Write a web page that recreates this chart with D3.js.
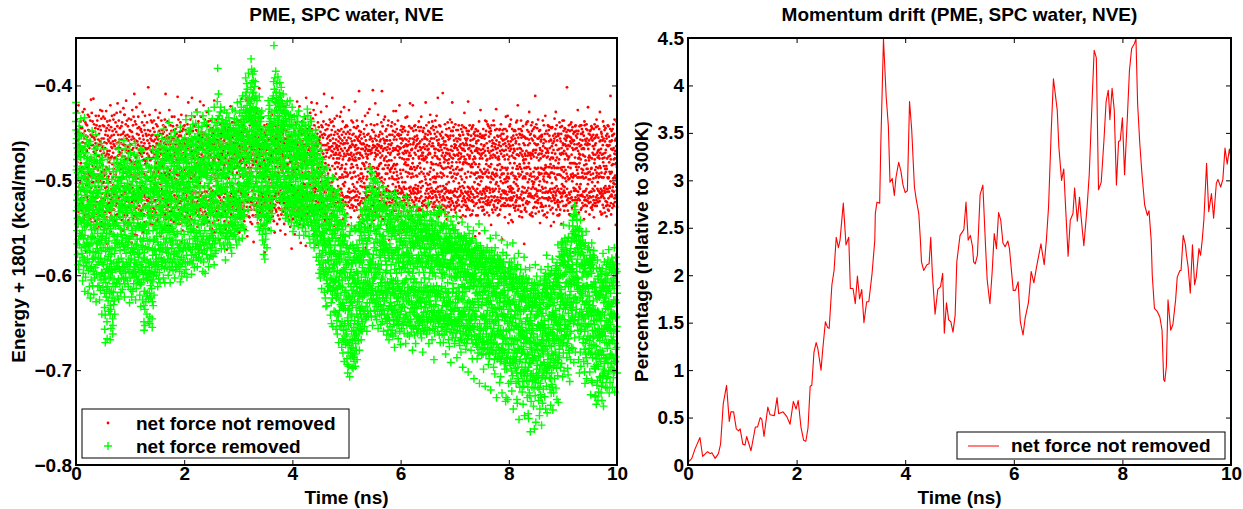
<!DOCTYPE html>
<html>
<head>
<meta charset="utf-8">
<script src="https://cdn.jsdelivr.net/npm/d3@7"></script>
<style>
  body { margin: 0; background: #fff; }
  svg text { font-family: "Liberation Sans", Arial, Helvetica, sans-serif; font-weight: bold; fill: #000; }
  .axis text { font-size: 19px; }
</style>
</head>
<body>
<svg id="fig" width="1243" height="509"></svg>
<script>
// whitespace-separated numbers -> array
const parseSeries = s => s.trim().split(/\s+/).map(Number);

// Energy + 1801 (kcal/mol) over a 10 ns NVE run, sampled at a fixed interval
// (one line per 0.1 ns). Stored in thousandths of a kcal/mol with the minus
// sign dropped: 487 means -0.487.
const energyNotRemoved = parseSeries(`
471 503 446 492 527 436 487 539 453 498 481 427 512 466 549 494 458 515 449 533 474 421 507 462 525 452 539 456 488 520 443 527 469 451 503 556 464 491 438 519 482 445 531 467 498
489 452 527 468 511 543 445 486 524 460 496 428 533 471 507 451 492 558 465 519 437 488 541 456 499 425 512 474 537 448 494 461 529 439 516 482 531 453 575 497 441 505 468 529 486
505 469 442 518 477 454 536 493 431 521 464 499 526 447 483 522 459 547 491 433 512 466 531 448 495 458 541 476 512 437 479 513 452 539 491 415 508 463 544 476 497 429 518 454 502
453 497 531 438 485 517 463 539 449 502 414 526 470 455 513 538 441 488 522 466 561 494 457 519 472 543 445 507 461 528 432 486 517 453 535 480 442 523 468 501 474 551 437 496 512
518 464 489 513 446 541 457 495 532 432 507 474 451 549 462 498 525 443 486 537 459 501 426 469 522 478 447 544 496 463 530 435 491 519 456 548 473 427 514 465 503 484 531 442 497
467 519 433 491 538 456 502 471 527 443 495 546 460 489 521 435 533 466 508 452 551 474 517 448 493 529 427 486 514 461 539 445 507 472 526 438 567 469 511 453 488 532 457 499 476
496 442 524 473 459 548 481 447 516 469 534 437 502 478 455 529 421 493 554 461 520 476 444 537 465 509 453 541 475 432 518 466 531 483 448 497 524 459 546 471 505 436 512 488 462
452 531 477 515 431 508 464 522 446 543 476 458 511 537 439 494 527 467 515 563 449 482 506 429 524 461 513 478 536 443 497 419 519 466 548 474 452 525 483 460 509 437 498 532 470
518 473 457 539 482 445 527 466 511 428 488 533 452 497 551 461 516 471 443 528 484 457 542 475 439 521 468 506 534 451 487 553 462 515 424 498 526 449 479 537 463 508 431 492 546
475 431 512 463 528 479 453 545 487 441 522 468 416 514 477 532 456 493 519 437 537 471 508 452 550 465 518 443 491 529 458 496 542 469 435 523 477 511 454 562 489 447 527 463 504
463 526 479 448 513 547 462 494 436 531 473 519 457 566 481 449 523 468 426 508 534 454 487 515 442 541 466 495 528 433 512 471 456 537 483 409 521 474 557 459 497 438 516 481 529
537 458 495 522 441 476 514 423 529 466 502 558 451 517 474 459 541 487 445 524 463 498 512 433 481 546 452 519 468 531 444 493 527 471 456 515 419 508 549 464 487 532 447 503 472
446 509 471 534 460 518 449 492 537 475 439 521 468 506 428 531 479 453 555 464 512 527 457 493 471 536 442 516 478 461 544 447 509 525 432 483 518 466 571 480 495 451 529 467 508
482 545 453 477 521 467 439 513 472 527 458 499 534 447 491 522 402 466 518 474 452 539 485 461 563 476 519 431 497 532 464 448 523 479 546 456 501 468 529 437 511 487 453 538 470
458 477 524 439 496 533 471 452 518 547 464 493 445 529 476 513 459 538 437 491 522 468 504 449 531 473 552 457 498 465 521 426 487 534 453 505 482 441 527 470 512 461 489 543 455
521 462 443 508 474 516 541 457 489 434 526 491 467 512 453 544 475 448 497 531 462 517 429 486 523 468 495 537 451 504 472 559 459 493 528 437 478 582 466 509 447 531 485 456 514
473 534 486 451 527 442 478 519 466 537 449 493 551 461 514 472 528 455 492 436 521 468 536 444 498 409 515 477 541 456 495 462 524 479 447 548 469 502 453 531 487 438 512 474 526
439 493 521 476 462 539 455 497 528 473 517 426 494 468 533 451 489 515 462 548 496 442 525 477 459 521 474 542 448 513 466 497 532 433 519 478 456 554 481 465 507 443 529 492 457
512 456 468 544 481 447 522 474 433 516 468 529 453 498 471 557 462 519 446 493 537 458 478 520 466 499 541 451 485 527 442 494 463 538 479 412 517 469 546 455 503 488 436 524 472
466 518 453 495 531 478 464 546 449 492 524 461 505 439 487 522 496 453 541 468 502 431 529 474 565 463 497 536 448 490 521 472 457 553 499 465 531 446 514 477 443 508 489 527 461
529 471 497 442 520 463 539 481 456 513 475 447 533 494 458 519 432 487 526 462 508 545 451 516 479 534 467 441 522 495 473 548 459 502 418 491 525 464 507 543 482 451 519 468 497
451 507 538 467 489 525 436 513 472 547 459 498 522 465 541 448 492 469 516 413 524 477 459 511 536 474 521 448 495 553 462 514 477 456 529 496 468 542 443 518 487 433 506 471 529
494 442 523 478 456 512 469 534 447 491 518 463 426 507 531 474 457 525 482 448 549 466 513 471 522 459 537 485 438 518 472 531 453 497 574 476 521 464 539 452 503 488 417 526 467
477 529 464 516 433 485 532 458 521 473 449 537 491 466 513 455 528 476 562 461 495 519 452 534 468 507 421 524 478 462 546 483 451 517 475 529 436 512 468 533 496 442 521 486 457
518 463 491 452 536 497 471 525 428 512 466 493 539 454 488 522 443 506 465 531 476 438 517 482 527 456 544 473 509 447 521 469 534 484 458 516 551 462 489 525 473 437 508 496 461
445 512 476 529 468 453 551 487 462 519 534 445 483 511 457 545 479 524 450 493 517 462 538 471 506 416 522 477 555 459 513 481 466 532 448 498 523 474 457 537 492 436 514 468 529
489 467 533 446 501 522 476 439 527 472 458 495 542 461 516 433 534 478 509 452 528 475 464 563 480 518 451 537 483 466 524 441 507 472 539 456 515 489 427 521 463 508 536 474 449
472 528 451 497 513 464 538 482 469 447 523 476 459 531 484 518 466 441 525 487 470 543 457 514 445 532 477 498 456 551 465 519 482 448 527 474 536 461 512 573 449 496 528 463 507
526 453 492 471 447 531 489 456 517 480 545 462 498 444 473 529 491 456 478 539 448 517 483 466 524 477 422 522 485 459 536 471 514 448 547 481 463 528 476 439 506 492 518 455 531
460 494 517 538 462 478 445 522 488 453 472 527 439 518 481 465 547 450 514 473 526 461 532 487 470 519 457 553 478 524 449 485 466 531 492 474 437 521 456 539 482 503 461 527 475
511 438 475 524 486 451 533 470 555 464 519 481 453 540 467 496 524 438 537 479 456 513 471 526 449 482 529 462 547 476 515 414 488 465 523 452 538 481 517 468 497 442 531 459 506
478 527 462 449 543 487 468 516 459 532 477 446 521 484 469 513 458 552 465 521 484 415 476 537 493 454 528 481 467 559 452 506 523 473 515 461 428 532 487 476 502 449 538 471 519
453 491 539 478 465 519 442 494 528 471 499 544 462 477 436 523 487 474 531 448 492 465 518 456 546 479 523 468 511 453 537 484 432 526 472 519 461 565 478 496 439 507 481 527 464
531 468 454 515 480 437 526 461 473 537 450 497 479 526 503 457 472 519 429 488 533 476 452 524 481 466 545 492 459 483 528 447 521 474 497 539 455 516 471 403 512 485 463 534 491
467 517 486 462 529 474 542 448 513 482 464 521 446 495 548 467 526 481 457 515 474 531 487 434 518 461 493 536 472 524 451 498 547 465 513 479 527 442 494 576 458 506 483 521 449
485 452 523 538 471 513 459 491 447 524 489 468 535 452 477 519 441 496 528 464 511 456 543 478 462 529 484 551 457 516 473 522 428 499 466 532 481 448 525 473 507 491 462 539 476
520 475 441 503 456 534 477 523 469 498 431 532 473 517 461 494 538 453 480 525 447 476 520 469 508 543 454 512 477 529 463 496 555 471 517 419 492 526 458 514 486 443 531 467 502
456 533 479 514 522 451 495 468 546 456 523 479 461 513 446 537 472 499 455 492 529 467 514 442 530 477 519 464 541 486 452 524 478 511 467 553 459 518 483 531 445 507 472 536 489
483 460 516 472 449 508 531 445 492 521 475 451 514 469 533 478 458 524 486 447 474 546 461 519 477 422 529 483 466 518 557 456 512 475 524 469 496 535 448 491 513 466 527 482 455
474 522 457 529 485 466 518 483 457 538 462 495 476 527 459 491 517 469 542 476 453 509 532 481 453 521 477 549 465 512 528 443 496 473 537 460 505 481 572 469 498 433 516 487 462
517 459 494 541 468 516 432 489 525 461 507 533 452 492 518 466 529 448 496 557 471 458 515 483 525 476 538 462 513 439 527 481 466 544 488 452 521 477 532 417 498 511 463 487 529
482 533 469 456 523 485 538 467 511 473 529 448 517 494 422 546 478 524 457 509 531 474 447 520 566 463 497 528 472 516 451 539 483 466 525 492 438 487 541 459 503 479 518 446 534
465 508 531 479 451 527 476 519 548 462 504 521 469 536 493 435 507 472 530 481 517 569 464 498 413 522 476 541 457 513 482 528 446 497 471 535 463 518 484 547 452 506 529 468 491
506 464 497 452 529 473 444 521 467 505 458 532 476 429 514 470 457 544 481 448 466 513 475 527 418 492 461 519 446 487 536 468 509 453 521 435 498 512 463 557 479 426 517 484 503
489 531 442 515 466 508 477 454 512 473 526 463 431 509 461 522 478 447 505 536 459 497 568 465 419 516 472 451 528 483 464 511 439 487 523 456 498 469 531 444 507 482 549 458 494
473 496 527 461 454 520 461 515 449 538 467 502 514 428 486 531 442 507 469 524 493 452 481 529 444 518 476 463 547 455 509 472 524 438 491 476 535 451 409 512 488 526 463 497 541
501 452 486 543 482 447 513 468 534 475 441 519 463 537 422 505 471 521 456 498 527 446 510 468 552 461 493 517 454 484 529 442 508 465 519 476 453 541 467 503 436 525 489 458 516
458 517 465 509 439 528 474 452 506 521 469 535 447 502 516 464 413 485 438 517 470 512 456 495 532 477 461 524 443 509 473 548 452 496 467 519 435 488 514 461 527 482 449 538 473
524 471 493 457 518 465 539 481 463 432 511 477 528 466 499 451 486 532 468 447 506 523 473 459 561 482 454 515 477 464 529 448 497 471 516 433 488 521 456 509 474 542 461 497 428
467 509 446 524 487 513 452 484 531 494 458 516 469 438 521 478 504 462 497 541 449 475 527 461 423 506 472 518 455 491 537 466 502 444 488 523 461 496 474 568 451 517 483 442 526
492 458 518 469 535 443 496 472 517 461 527 449 494 512 468 547 455 479 523 473 426 509 466 518 477 451 513 478 529 464 492 447 521 473 456 539 487 465 512 471 498 437 526 483 459
519 475 462 497 452 529 478 504 439 486 511 463 527 451 492 473 518 444 479 507 532 458 491 549 465 512 417 476 521 468 496 454 517 479 463 528 445 509 472 516 484 437 531 467 502
456 521 487 443 512 471 458 525 495 466 539 477 454 518 406 499 448 526 477 459 514 471 498 452 524 473 506 461 493 537 449 488 522 467 501 456 545 474 493 462 519 438 507 482 531
498 467 524 476 461 496 543 451 483 519 462 503 446 485 528 454 507 469 513 432 488 521 465 509 571 472 458 516 481 467 531 442 499 475 518 463 496 452 528 477 507 429 491 536 469
473 516 451 512 538 468 486 507 464 531 425 512 483 457 506 531 469 548 454 493 472 516 487 441 527 495 468 519 456 488 513 471 534 447 492 466 521 459 508 405 486 527 463 499 542
521 449 498 465 487 524 442 529 478 456 507 471 533 464 419 517 491 453 475 529 468 496 552 473 458 514 487 466 521 493 441 509 462 527 473 516 488 431 495 469 531 454 508 485 463
464 493 537 452 516 483 498 459 522 471 514 449 476 538 457 482 513 466 527 439 501 464 532 497 406 519 474 451 506 528 443 488 515 469 541 456 503 522 467 488 436 512 479 527 458
477 524 461 499 433 531 466 512 484 448 526 493 458 511 475 524 446 509 468 517 454 547 480 458 493 536 465 487 519 442 506 471 528 437 511 484 462 516 479 563 452 498 523 467 489
512 458 473 527 491 452 519 471 536 463 488 517 443 479 524 487 461 513 439 496 533 452 498 521 469 504 448 485 531 466 512 427 492 519 457 483 526 468 499 454 515 476 441 532 488
449 511 522 466 507 484 427 532 468 499 457 524 491 446 483 518 495 452 542 464 511 473 437 502 526 469 514 451 498 557 453 506 472 519 465 421 508 476 523 467 538 456 489 513 447
493 466 452 514 533 461 509 443 497 522 456 511 477 529 449 502 527 471 458 513 446 489 518 465 553 472 507 444 516 478 464 521 483 509 456 538 469 502 448 517 481 434 524 491 462
526 471 509 457 484 519 478 464 515 433 532 469 496 452 517 463 484 534 492 449 478 521 459 541 474 508 443 516 471 493 527 456 511 419 488 518 462 507 474 529 486 445 513 497 468
468 514 445 488 521 467 538 493 456 482 509 421 528 477 462 511 448 496 523 460 514 457 486 508 443 526 471 454 513 489 442 518 548 466 505 473 521 447 509 464 495 532 458 487 519
514 453 496 531 462 509 456 485 511 537 469 506 444 513 532 475 438 477 522 461 529 493 448 482 519 465 502 546 459 487 512 468 531 444 508 474 433 517 491 552 466 501 478 524 457
471 527 474 448 506 538 471 449 522 465 493 533 477 445 479 526 488 462 456 537 454 496 521 467 478 514 451 499 418 475 518 456 503 527 442 511 476 464 529 481 509 457 493 536 468
452 505 519 473 448 514 526 467 494 439 518 462 509 471 525 449 517 459 491 504 472 431 499 533 451 487 512 456 523 481 445 508 464 519 456 547 483 438 514 476 528 461 497 511 443
518 464 483 525 489 447 502 531 456 512 467 496 523 474 451 512 471 528 437 498 516 467 502 444 527 483 509 454 518 432 496 475 521 458 493 536 449 512 477 413 507 468 529 484 461
463 512 538 457 496 523 469 442 515 478 534 451 482 518 443 506 465 529 492 453 485 528 463 512 549 468 497 474 521 449 511 487 456 526 493 408 471 517 455 506 531 462 488 519 476
495 459 481 509 527 466 514 478 441 521 474 508 459 536 487 452 509 463 529 471 512 446 504 479 541 467 518 453 496 472 527 439 511 486 454 519 482 468 534 457 502 478 523 445 513
472 528 456 513 474 492 436 520 487 453 511 526 468 492 519 448 531 476 464 497 439 485 522 481 418 513 469 496 448 524 477 512 453 489 538 444 501 473 516 458 527 466 493 531 462
511 465 509 474 517 441 529 463 498 534 456 488 523 447 481 524 466 494 512 473 527 459 486 518 468 493 447 521 474 509 456 545 478 442 503 471 526 452 517 489 464 532 481 507 453
457 516 477 462 539 496 472 511 446 489 466 513 528 475 499 442 488 522 449 506 468 514 461 537 483 452 519 467 481 526 444 508 475 517 463 429 502 478 469 521 493 456 512 481 538
523 478 445 527 461 513 458 497 531 482 448 527 463 514 456 519 473 451 507 529 491 417 512 467 452 516 483 448 521 475 508 466 531 477 442 509 474 518 463 496 537 458 485 512 469
486 453 514 492 446 522 483 536 464 471 521 444 507 486 532 457 515 442 478 523 464 509 493 451 518 481 456 527 475 502 449 494 518 469 559 477 453 511 483 446 525 468 492 537 461
459 498 524 466 513 469 448 509 517 453 492 537 471 448 504 486 458 529 514 467 496 521 438 483 556 472 505 454 497 477 523 451 489 512 426 496 468 519 474 501 462 528 455 491 514
515 472 453 519 477 532 497 455 493 528 467 511 446 523 471 509 531 464 453 512 488 463 536 519 456 493 514 469 437 509 474 525 452 491 517 448 507 483 438 522 479 461 511 496 534
478 526 489 441 508 466 524 521 469 497 443 485 518 492 454 537 449 508 471 526 459 513 477 445 510 486 523 451 502 474 496 448 547 483 469 517 442 498 521 464 493 531 458 476 509
492 461 512 534 468 499 473 437 526 461 518 494 442 511 528 455 488 517 465 474 522 447 496 531 462 509 476 504 467 425 493 521 458 502 446 489 529 471 495 453 518 484 466 537 478
524 477 454 506 521 475 463 512 478 536 460 447 509 483 446 522 497 469 531 453 489 518 464 501 441 515 472 527 456 494 519 451 486 562 493 468 511 447 487 526 458 503 475 519 462
451 513 493 469 446 527 511 474 457 499 524 478 539 461 514 487 446 502 519 468 433 512 527 464 498 456 489 521 448 496 473 515 454 501 487 432 493 526 459 507 478 545 466 497 519
498 462 527 512 475 443 536 469 509 482 441 521 464 506 527 459 518 436 493 511 467 542 455 508 521 474 513 446 492 519 457 487 544 463 509 471 526 453 495 476 517 448 502 529 467
513 482 469 447 529 498 456 477 532 448 496 523 461 527 459 504 439 521 488 452 516 473 499 437 485 518 467 506 473 421 511 488 531 455 493 527 446 509 474 519 462 496 538 451 483
466 527 486 518 452 471 519 446 494 533 467 437 515 488 455 533 473 448 512 539 452 491 521 469 507 475 498 443 526 479 454 513 461 496 478 519 482 567 454 487 508 463 531 472 496
529 455 498 474 513 456 478 524 441 487 533 469 493 439 522 486 511 456 447 493 525 474 438 502 463 517 471 508 486 449 514 482 457 523 428 499 473 517 461 495 536 452 488 514 471
474 516 451 493 537 477 442 509 518 456 496 534 448 501 472 439 517 538 473 458 507 469 504 529 446 491 468 519 475 502 453 496 528 461 444 509 487 516 454 411 523 471 499 535 462
509 468 523 441 488 514 529 463 476 511 445 498 517 456 497 521 462 487 436 524 473 511 456 492 533 479 505 448 494 472 519 454 501 466 545 447 493 468 511 477 528 459 487 524 453
457 493 472 526 454 452 507 518 469 532 488 513 437 509 475 464 528 499 461 496 537 442 489 519 457 501 474 493 536 451 487 513 466 432 508 484 527 459 492 519 471 448 512 486 539
519 476 502 467 493 534 451 469 513 475 442 496 521 471 443 512 486 447 518 459 494 527 453 486 511 466 497 478 519 444 509 483 531 457 492 548 458 513 476 445 522 487 464 503 471
492 444 529 509 461 476 516 477 535 453 518 468 485 512 544 459 493 521 456 487 435 519 508 451 524 472 497 446 513 479 428 516 463 499 454 531 487 506 442 511 476 523 458 494 537
468 521 451 487 526 509 453 528 482 494 537 451 512 478 467 536 439 494 523 513 472 456 531 444 487 514 459 495 473 518 451 509 546 466 489 517 443 504 471 522 486 437 513 497 461
514 463 506 472 527 448 491 437 511 486 469 532 456 507 445 513 478 462 498 446 527 489 453 517 472 458 501 464 526 449 493 516 455 402 509 474 521 467 496 453 532 478 447 519 486
463 499 524 476 442 513 475 536 454 498 515 464 448 523 482 459 536 441 487 519 455 494 512 461 439 496 473 518 447 482 529 457 501 466 444 521 493 576 459 497 468 527 451 508 482
527 458 449 511 495 462 538 482 449 521 476 443 509 467 518 442 495 527 453 486 511 448 524 483 466 504 455 489 521 462 497 451 516 426 493 469 512 477 448 519 486 534 461 497 472
476 507 482 443 521 464 509 473 516 457 442 504 478 531 451 497 463 516 442 488 529 467 446 515 451 492 524 458 496 473 517 449 489 512 466 527 474 498 453 541 467 512 484 438 521
442 493 518 475 457 526 462 511 479 533 497 459 521 446 483 509 441 488 527 456 493 516 463 447 522 488 461 504 423 492 467 519 476 499 451 524 479 458 513 474 536 462 491 517 448
499 452 476 523 512 447 494 529 456 488 518 443 487 512 454 528 477 445 502 531 458 471 509 526 464 493 517 452 498 473 521 446 539 467 456 511 482 524 441 478 506 463 527 489 455
473 524 461 497 444 518 486 453 521 436 492 527 452 495 516 471 509 443 476 502 469 523 487 511 455 519 474 497 468 551 493 446 512 477 522 459 485 428 514 471 496 533 458 487 509
518 467 513 449 536 492 451 516 473 497 454 511 535 458 477 526 463 517 438 481 514 472 497 456 529 485 508 443 519 476 511 447 493 534 459 488 513 471 506 445 522 468 491 527 453
485 509 538 456 488 463 523 477 512 451 526 497 442 509 531 464 498 443 519 475 497 532 454 512 481 506 463 491 527 459 508 474 517 446 493 411 501 478 524 459 536 467 492 515 448
491 458 484 517 453 529 511 468 446 507 483 452 498 525 441 503 466 512 478 527 451 497 519 472 436 504 477 523 458 495 469 516 483 498 547 456 482 519 464 507 473 438 511 486 528
`);

const energyRemoved = parseSeries(`
438 418 447 461 429 489 532 456 553 478 521 567 485 466 540 578 492 515 451 546 589 473 528 562 497 594 461 539 443 568 507 471 556 452 530 585 488 523 464 542 511 476 559 435 527 498 571 453 544 519
492 558 521 577 504 468 553 530 606 489 542 581 467 535 598 509 561 453 526 590 542 475 568 497 549 434 583 511 617 485 558 464 535 570 496 602 533 471 587 516 548 482 566 503 529 591 457 539 574 512
546 491 583 528 477 562 619 501 544 488 595 526 462 569 531 507 586 539 483 612 537 504 576 523 568 459 528 624 547 491 593 512 476 560 521 605 538 479 552 591 497 566 526 448 583 517 559 534 611 493
519 575 531 596 488 547 513 582 620 494 561 478 538 599 535 481 603 552 506 467 581 523 592 498 550 452 576 517 628 529 473 567 511 599 482 546 589 464 541 513 572 497 556 612 487 534 565 502 583 526
577 514 499 586 538 611 497 563 530 626 482 545 601 510 568 493 547 616 525 582 479 559 605 518 574 461 597 506 563 641 498 532 587 476 559 523 598 485 546 613 528 571 493 552 536 589 467 524 604 541
552 601 518 619 634 657 583 539 566 642 671 598 547 513 575 608 490 561 623 527 594 499 556 615 532 649 667 584 546 478 571 612 519 593 503 627 548 596 511 580 638 564 529 603 556 488 617 573 542 591
573 619 641 668 632 585 551 527 602 636 656 578 539 514 588 617 531 595 499 572 624 526 597 543 511 646 662 653 609 557 522 491 618 546 631 506 587 482 604 559 627 538 577 509 641 566 593 521 612 548
548 496 571 517 594 489 563 608 512 545 587 478 541 609 505 566 516 622 484 559 591 500 568 501 583 467 604 533 507 625 548 486 586 528 461 594 523 567 490 609 538 574 512 551 596 481 529 618 557 503
525 582 498 557 603 499 566 521 474 592 528 615 496 563 534 487 586 511 598 539 492 570 517 604 545 458 591 479 552 623 506 573 484 609 527 558 467 596 521 568 543 602 489 535 577 514 561 496 587 532
561 507 589 530 482 568 606 503 547 491 594 519 571 476 548 612 510 565 488 583 521 597 496 562 526 629 463 544 591 487 603 509 576 471 587 528 615 492 559 534 582 505 548 623 486 571 517 598 539 556
553 598 501 575 617 514 559 482 596 528 572 497 609 545 489 576 513 591 528 473 584 519 602 495 567 461 596 534 488 626 551 499 587 517 614 482 568 536 601 506 549 589 474 562 523 607 492 578 541 519
509 573 594 520 486 581 605 511 548 597 479 534 608 516 577 493 621 536 502 589 484 562 518 610 547 633 467 569 497 592 521 608 488 553 514 586 469 595 538 571 503 548 626 491 564 529 599 513 582 547
561 604 632 649 658 617 576 552 583 508 617 636 653 595 548 529 597 501 570 628 514 591 496 603 546 484 622 556 509 641 584 528 619 498 573 605 477 564 598 527 649 536 587 512 625 553 599 486 571 544
592 528 619 644 651 602 563 537 504 586 611 517 491 598 623 540 509 605 532 487 589 614 523 596 500 646 655 628 572 511 579 468 607 553 496 632 564 518 601 539 588 507 621 548 574 513 597 536 562 485
548 496 573 509 591 477 545 502 583 468 527 578 493 600 511 559 474 586 507 551 489 594 515 565 480 612 452 537 503 589 471 568 516 604 485 543 582 463 529 597 512 556 488 574 521 608 495 547 531 572
537 483 568 499 527 582 464 518 555 481 591 503 549 456 575 497 532 586 478 553 511 571 469 526 494 603 446 539 562 487 584 498 521 465 593 516 549 482 608 512 544 473 566 501 587 457 528 573 506 551
503 561 514 467 576 522 488 592 475 538 506 571 459 534 583 491 555 500 600 477 546 519 577 472 540 439 586 508 553 461 594 517 479 561 524 608 467 513 565 496 537 582 454 528 591 485 549 503 572 519
521 478 563 505 551 466 587 499 534 568 482 595 507 473 554 578 491 536 461 583 508 557 485 529 575 449 603 492 537 586 468 542 501 594 476 522 563 457 546 489 577 512 538 469 591 503 556 481 528 567
509 556 472 523 580 485 537 459 571 518 476 589 503 541 467 575 510 482 596 488 534 568 463 584 505 607 444 538 496 572 473 591 509 554 466 581 499 528 601 477 545 516 563 492 532 587 458 519 574 502
498 541 572 487 464 530 583 505 479 557 511 598 472 521 566 496 455 543 495 588 509 468 571 492 529 436 594 481 537 463 579 504 548 473 602 486 525 567 459 541 513 586 478 526 554 493 571 448 532 508
502 459 543 486 571 511 450 562 495 468 586 507 473 548 445 519 573 464 531 490 555 456 524 579 481 599 432 517 551 476 588 488 529 457 573 501 536 441 567 493 519 584 462 527 553 489 545 508 471 592
486 533 561 478 454 542 497 578 463 526 485 567 440 514 559 502 468 581 488 457 555 499 570 472 528 428 591 483 527 564 451 506 572 477 546 489 444 582 501 533 467 519 553 491 576 458 538 512 483 569
508 464 556 491 568 456 525 482 584 496 449 547 489 573 461 528 494 562 443 521 577 480 543 468 565 596 432 521 484 559 463 586 492 537 453 568 477 541 439 574 506 527 461 553 487 598 471 516 542 493
517 483 451 566 495 542 463 578 489 524 441 559 497 476 572 492 545 457 582 485 528 469 563 508 460 427 591 481 534 452 567 503 476 583 464 529 561 446 516 548 489 571 458 522 537 499 579 466 514 553
472 529 556 448 497 571 464 532 435 558 483 516 567 456 529 489 580 467 521 446 561 492 458 543 475 589 423 524 468 567 452 515 546 439 577 481 536 459 563 497 521 447 574 506 488 552 464 539 511 485
468 523 442 417 501 538 452 382 495 529 435 561 473 506 409 534 487 448 548 511 459 432 527 483 551 454 566 493 467 539 428 555 476 512 423 547 461 507 446 572 498 439 523 481 556 467 512 436 529 494
494 448 536 481 439 555 504 463 568 492 447 531 475 548 453 510 426 549 467 572 489 443 527 470 561 482 584 455 508 547 437 496 539 464 559 451 513 538 429 525 478 556 441 503 566 487 519 454 534 492
466 522 449 553 487 531 434 518 562 461 525 473 547 440 502 568 456 529 481 555 445 507 543 468 571 452 488 556 459 524 482 577 448 503 546 467 521 425 549 486 512 463 538 476 559 494 447 532 471 508
453 511 548 466 435 526 482 557 448 519 463 544 427 498 539 451 562 474 516 442 551 469 525 457 513 436 568 482 449 541 465 527 418 553 477 452 536 469 547 441 504 532 458 521 487 445 563 472 509 494
448 505 532 429 473 541 451 522 417 487 534 456 550 438 506 462 529 423 475 538 444 509 547 432 490 561 454 516 411 495 538 443 467 549 436 511 458 532 426 493 524 447 503 537 462 481 553 439 518 471
432 488 411 467 505 392 426 493 449 513 407 461 429 502 435 398 476 518 421 453 496 404 448 507 415 472 531 428 455 499 387 478 433 509 417 459 521 432 482 448 413 491 457 424 503 438 466 496 419 474
428 402 459 372 437 491 415 448 383 426 504 397 452 435 519 408 463 388 441 496 423 457 395 512 446 407 469 431 526 453 385 478 414 439 507 401 461 426 518 443 396 472 433 459 487 411 449 501 424 465
458 497 442 531 469 416 506 451 488 539 427 464 522 483 438 549 472 445 511 433 537 462 496 435 528 477 412 519 456 553 443 491 527 429 474 512 451 546 438 495 519 464 433 507 481 452 538 469 427 502
481 533 557 496 458 532 563 487 524 448 551 509 466 536 578 473 529 454 547 492 568 464 515 539 488 583 497 461 551 519 472 562 446 528 501 556 477 521 489 545 462 513 537 494 571 455 527 506 483 542
507 462 444 529 483 416 465 511 432 488 537 449 425 506 471 522 438 467 513 421 476 530 443 494 452 541 479 435 518 456 553 482 447 526 429 497 468 535 441 503 459 488 527 414 496 472 448 519 461 508
442 411 477 396 453 499 358 435 482 404 458 511 427 468 392 491 439 417 505 449 418 476 385 462 494 407 519 426 471 413 502 445 398 481 454 512 419 463 441 506 432 391 487 448 469 423 497 437 458 415
476 423 451 508 408 469 433 495 397 464 516 421 453 502 411 478 445 522 426 471 402 487 439 416 507 458 531 429 482 447 521 419 463 506 442 518 427 484 409 492 455 437 513 468 423 499 441 476 429 496
481 517 443 502 427 531 466 508 435 485 540 449 512 421 488 526 463 504 438 537 473 429 521 455 509 417 536 468 513 446 492 527 459 488 543 431 507 464 524 452 498 436 519 474 443 531 462 497 416 509
502 458 523 475 431 536 469 513 441 497 544 452 487 528 436 491 517 423 482 531 457 508 466 522 479 554 442 511 468 533 449 496 525 451 487 548 433 519 474 508 461 539 486 445 527 493 452 518 476 501
460 512 478 537 441 495 524 466 545 473 432 519 482 457 534 476 515 438 529 471 506 548 453 517 490 427 537 472 521 453 509 558 467 493 531 446 514 476 542 459 498 523 448 507 484 536 461 527 471 495
513 468 531 486 443 522 477 550 464 506 482 538 439 497 525 471 543 449 511 534 476 558 467 519 494 433 546 473 515 451 529 496 442 537 478 521 456 554 488 472 512 447 531 494 463 519 484 541 457 506
476 522 425 508 451 541 483 432 516 529 458 547 495 442 534 503 461 559 448 520 497 538 454 526 479 566 447 512 473 529 436 518 481 543 456 499 531 438 522 487 462 548 471 506 493 534 451 515 483 467
527 484 548 496 459 562 503 471 537 553 466 519 571 478 542 454 529 557 492 536 468 566 501 545 476 447 551 496 533 462 558 503 477 581 489 528 542 456 517 554 473 536 491 564 482 519 547 462 528 506
532 568 497 549 585 506 541 598 483 554 516 577 492 589 525 477 559 511 603 528 491 563 519 594 532 468 581 506 558 614 497 546 579 485 592 521 555 478 574 538 503 566 529 587 514 547 596 489 561 534
556 601 522 569 618 504 563 527 599 551 495 568 624 531 587 509 576 633 518 594 540 501 605 553 544 632 487 567 522 609 538 616 503 584 531 597 498 563 585 516 548 612 529 571 507 593 546 578 519 564
592 538 611 553 516 603 547 642 569 525 617 576 511 584 629 543 651 578 519 604 557 509 593 538 624 497 616 561 654 552 525 608 536 589 498 577 613 532 596 638 521 574 556 607 537 588 543 621 568 514
606 553 639 577 528 615 561 657 583 539 624 601 516 588 648 547 614 532 662 595 551 619 542 641 580 511 643 564 606 528 671 583 547 626 519 602 578 637 545 611 586 533 653 569 597 524 631 558 612 575
621 568 654 582 545 633 577 676 598 552 649 605 531 613 667 563 629 548 682 596 567 635 557 658 594 526 669 578 632 543 691 597 564 651 536 618 592 664 559 637 603 548 673 584 616 539 657 571 626 589
625 662 587 688 623 569 671 694 602 645 703 648 584 637 681 576 653 609 696 622 588 671 637 572 635 558 674 602 707 623 581 668 554 629 682 597 651 569 686 612 641 594 676 548 628 659 587 643 616 697
632 588 669 603 685 621 568 677 698 604 659 583 687 616 572 655 691 609 584 664 626 577 648 683 600 553 667 608 696 619 574 672 587 658 551 634 679 581 663 596 612 641 568 689 617 583 652 598 628 606
598 644 571 622 669 583 547 651 606 575 661 552 628 587 679 563 619 637 544 613 656 579 635 554 641 531 657 586 622 558 668 602 549 646 581 633 563 659 537 614 592 541 649 575 623 596 567 638 584 609
574 616 543 608 641 555 529 621 577 654 549 596 532 638 561 614 523 602 647 550 609 536 633 576 618 512 644 567 597 541 659 573 528 629 564 606 542 638 577 551 619 532 589 643 558 597 521 612 578 561
561 538 607 506 593 629 532 584 487 611 553 638 519 592 621 525 586 498 614 546 644 533 597 511 625 492 588 536 616 541 653 509 582 609 521 627 536 604 503 578 549 621 515 592 566 637 528 571 498 603
602 554 629 521 597 643 538 589 501 616 562 528 633 574 513 621 556 647 531 599 518 626 565 537 638 502 593 529 617 548 656 523 588 612 539 631 514 597 551 624 508 579 566 641 532 594 557 618 526 581
573 631 547 608 652 564 526 617 589 642 543 604 518 636 569 611 533 649 576 559 624 528 602 637 565 507 621 558 659 573 531 632 567 616 522 641 574 543 627 579 513 608 562 646 538 597 585 529 619 572
611 568 646 589 532 624 595 663 552 617 573 651 546 607 641 528 619 576 658 554 613 541 645 582 635 517 668 571 614 549 647 582 536 633 567 654 551 608 629 544 598 621 537 662 573 589 516 636 559 604
577 632 543 609 658 556 615 531 641 583 550 664 576 619 537 606 648 553 614 525 637 579 652 548 621 676 513 594 632 558 643 541 617 574 661 552 606 529 636 587 562 647 519 598 624 571 539 653 582 609
628 573 647 541 606 639 554 612 667 579 535 623 587 651 549 614 572 645 528 593 631 556 659 565 616 523 641 582 547 673 564 619 552 638 537 597 634 561 656 543 617 578 526 649 591 568 633 545 609 586
569 624 652 578 533 626 587 551 645 592 564 661 546 608 634 529 617 579 649 555 606 538 641 593 567 672 544 621 558 604 517 643 576 627 549 653 581 554 619 537 662 589 571 613 524 647 596 548 628 585
622 577 538 613 649 561 597 664 552 628 581 532 639 565 653 588 549 616 571 647 540 604 635 558 660 533 627 579 614 551 654 582 543 631 566 679 553 598 639 564 612 587 528 656 593 571 621 545 608 634
604 641 556 618 663 569 542 634 588 653 551 615 567 672 559 621 536 607 646 563 629 548 657 582 635 528 643 591 558 661 566 623 544 649 585 617 552 656 579 628 561 644 537 613 597 569 651 583 542 626
616 563 648 587 539 629 572 661 555 624 647 546 608 633 561 666 579 617 542 642 586 554 653 591 567 681 533 624 582 644 551 618 659 563 597 639 548 613 649 576 537 628 603 571 658 546 617 592 634 559
579 634 552 613 655 561 629 536 644 587 558 662 572 621 547 611 649 564 533 638 585 657 553 616 580 524 647 588 623 559 672 567 604 549 641 573 631 556 658 597 542 627 579 618 561 649 593 536 612 571
631 567 646 584 543 637 591 559 668 582 618 551 644 598 562 656 543 615 581 639 557 612 649 566 633 689 534 597 639 563 617 661 553 588 646 569 622 546 654 601 572 631 548 627 586 559 643 579 611 537
586 641 563 619 536 647 584 622 555 659 591 568 544 637 578 651 559 616 532 644 582 620 561 663 589 527 648 594 567 639 553 671 586 623 562 646 571 617 548 655 598 534 637 576 612 589 549 662 571 603
632 579 654 591 551 643 597 565 671 576 624 548 648 583 572 663 561 627 588 546 646 599 569 657 584 533 642 614 577 683 562 618 651 556 633 574 659 567 629 592 548 641 587 619 563 652 574 608 538 631
591 646 564 623 668 572 618 551 653 587 629 566 675 593 559 644 601 574 660 556 628 649 567 636 588 692 543 641 584 569 657 602 576 648 561 637 593 666 571 618 584 652 547 629 609 573 661 588 614 552
638 582 657 594 553 647 601 568 672 579 635 561 654 603 574 666 552 629 593 648 565 622 661 576 619 538 651 602 579 687 567 634 598 573 658 556 625 591 649 572 613 646 561 638 581 624 597 559 669 586
617 653 571 638 674 582 644 561 659 602 587 666 568 641 596 681 574 625 559 651 583 668 572 639 610 544 647 593 618 568 697 583 627 612 661 576 638 563 654 601 579 643 589 622 558 671 596 612 573 634
641 588 663 602 564 656 599 572 678 617 583 647 561 661 605 579 672 568 634 597 655 574 629 667 594 549 653 612 576 702 567 641 598 663 579 627 648 556 658 601 573 636 614 589 651 566 629 607 584 647
602 657 576 634 679 581 646 564 664 608 591 668 573 643 601 688 579 628 561 655 599 672 586 637 612 553 657 604 631 577 709 611 586 641 598 654 572 663 589 628 606 647 574 619 593 671 582 638 601 566
644 586 673 618 571 665 612 582 688 625 591 654 577 676 621 589 682 571 634 607 668 586 628 671 594 546 662 617 583 714 577 651 605 678 582 621 658 569 667 604 588 643 612 579 656 597 631 574 684 609
632 676 587 644 581 625 671 579 665 618 592 683 574 658 611 699 589 642 576 670 604 677 594 651 617 553 673 599 646 582 717 616 591 656 587 647 611 683 574 629 662 598 641 583 669 608 624 571 651 637
654 601 678 613 586 671 627 597 694 621 606 665 582 682 631 594 688 576 649 612 683 591 643 676 609 561 668 627 593 721 582 656 611 678 587 631 663 574 672 619 598 647 634 583 661 604 639 587 681 622
617 672 593 651 697 612 656 584 671 635 599 689 579 664 618 704 586 649 571 666 622 683 591 648 636 558 679 614 641 587 729 621 596 673 592 662 627 688 579 643 611 659 601 634 583 676 608 647 592 653
662 609 686 621 584 679 635 593 713 629 604 663 589 691 624 601 707 583 658 619 682 598 641 689 607 563 677 636 591 724 587 664 618 685 594 643 672 576 679 621 602 658 633 586 667 611 641 597 693 628
616 681 602 648 699 621 666 592 693 644 607 733 598 672 627 729 604 659 579 687 631 699 609 667 645 568 688 623 651 596 731 641 616 682 601 673 628 714 592 657 636 678 613 649 586 692 627 658 604 666
631 598 695 630 593 688 644 602 712 638 613 672 587 701 653 610 722 591 667 628 692 607 650 706 615 566 686 645 599 741 604 673 626 693 608 657 681 582 689 631 612 667 642 594 679 621 653 603 698 637
646 691 602 668 714 631 686 593 703 654 617 731 608 682 637 735 614 669 589 697 641 709 619 677 655 577 712 633 661 606 752 651 626 691 609 678 636 718 601 663 646 689 623 657 594 703 638 666 612 675
682 628 704 651 604 697 655 612 723 659 623 681 607 712 664 621 736 601 678 638 703 617 671 717 625 581 706 664 609 748 616 683 636 701 622 667 692 594 699 649 627 672 658 603 688 634 666 614 711 645
661 706 617 683 729 646 701 608 718 669 632 746 623 697 652 751 629 684 604 712 656 724 634 692 670 592 727 648 676 621 765 666 641 706 624 693 651 733 616 678 661 704 638 672 609 718 653 681 627 690
687 633 711 658 611 704 662 619 738 666 631 688 614 719 671 628 762 608 685 645 710 624 678 727 632 589 713 671 616 755 623 690 643 708 629 674 699 601 706 656 634 679 665 611 695 641 673 621 718 652
653 708 619 685 732 638 703 610 720 671 634 748 625 699 654 741 631 686 606 714 658 726 636 694 672 594 729 650 678 623 758 668 643 708 626 695 653 735 618 680 663 706 640 674 611 720 655 683 629 692
669 615 701 648 601 694 652 609 728 656 621 678 604 709 661 618 741 598 675 635 700 614 668 717 622 579 703 661 606 745 613 680 633 698 619 664 689 591 696 646 624 669 655 601 685 631 663 611 708 642
642 697 608 674 720 627 692 599 709 660 623 737 614 688 643 724 620 675 595 703 647 715 625 683 661 583 718 639 667 612 742 657 632 697 615 684 642 724 607 669 652 695 629 663 600 709 644 672 618 681
648 604 690 637 590 683 641 598 719 645 610 667 593 698 650 607 731 587 664 624 689 603 657 706 611 568 692 650 595 734 602 669 622 687 608 653 678 580 685 635 613 658 644 590 674 620 652 600 697 631
624 581 668 615 566 659 619 575 693 623 587 646 571 674 628 584 707 565 642 601 666 579 635 682 589 547 671 628 573 701 578 647 599 664 586 631 656 561 663 612 590 636 621 568 652 597 629 577 674 608
608 663 574 631 687 592 657 564 672 626 589 698 579 654 607 705 585 640 560 667 612 679 591 649 624 548 682 606 632 577 712 621 596 661 580 648 607 689 572 634 617 659 594 628 565 676 609 637 583 645
601 556 643 589 542 634 593 548 677 597 561 629 538 651 605 554 692 536 624 576 648 527 610 666 563 531 647 602 557 681 552 623 576 641 558 604 629 536 636 587 564 611 596 541 626 572 603 549 652 583
615 571 658 604 553 647 608 564 689 611 576 644 559 665 617 569 703 551 639 591 653 567 624 681 578 542 659 617 563 696 568 636 589 657 572 619 643 554 651 602 576 627 613 558 641 588 621 566 671 597
612 667 579 645 691 597 651 569 678 631 593 702 584 659 612 714 590 646 566 672 617 683 596 654 629 554 687 611 638 583 709 628 601 668 586 654 611 693 573 641 622 664 599 634 571 681 614 643 589 652
631 587 677 622 573 669 627 584 702 635 596 665 579 683 638 592 726 582 651 610 674 589 643 711 598 566 681 639 584 713 582 658 612 687 587 632 666 579 673 627 593 648 636 574 664 607 642 581 696 618
652 698 617 674 727 637 683 608 699 659 621 728 613 688 642 736 618 675 593 694 647 716 625 683 661 584 711 638 666 601 732 656 621 696 604 682 639 723 601 664 646 688 623 657 592 707 641 669 613 679
663 620 708 644 596 691 648 605 724 662 616 684 599 717 657 613 732 593 680 639 706 608 664 713 621 577 699 657 611 738 607 684 629 703 614 659 693 586 701 642 627 671 653 599 687 624 664 606 718 635
622 687 598 653 709 617 671 589 688 648 612 719 604 677 633 707 600 655 584 692 636 704 616 671 650 573 701 628 656 591 724 646 611 686 594 672 631 713 592 658 641 683 619 652 587 697 633 661 608 668
641 597 693 630 582 684 642 594 718 646 611 669 586 699 640 606 708 589 665 626 688 603 657 702 614 571 691 641 594 723 593 672 626 691 598 645 678 581 686 629 607 659 644 588 676 611 654 596 703 619
`);

// Momentum drift, percentage relative to 300 K, for the run without net-force removal.
const driftTime = [
0.00,0.04,0.07,0.13,0.22,0.27,0.36,0.41,0.44,0.50,0.56,0.60,0.65,0.71,0.76,0.79,0.84,0.89,0.93,0.96,
1.01,1.05,1.08,1.16,1.24,1.28,1.33,1.36,1.40,1.47,1.51,1.59,1.64,1.67,1.75,1.82,1.88,1.94,1.99,2.03,
2.08,2.13,2.17,2.21,2.25,2.28,2.32,2.36,2.39,2.45,2.48,2.53,2.57,2.60,2.65,2.69,2.73,2.77,2.80,2.86,
2.91,2.96,2.99,3.04,3.08,3.12,3.16,3.20,3.24,3.29,3.33,3.39,3.44,3.45,3.48,3.53,3.55,3.60,3.65,3.69,
3.72,3.76,3.80,3.83,3.88,3.92,3.96,4.00,4.04,4.08,4.12,4.17,4.20,4.25,4.28,4.30,4.34,4.40,4.44,4.47,
4.50,4.55,4.60,4.65,4.69,4.72,4.76,4.80,4.84,4.88,4.92,4.95,5.01,5.08,5.12,5.16,5.20,5.24,5.26,5.29,
5.33,5.38,5.43,5.48,5.51,5.56,5.60,5.64,5.68,5.72,5.76,5.80,5.84,5.89,5.92,5.99,6.03,6.08,6.12,6.17,
6.21,6.27,6.32,6.37,6.42,6.46,6.50,6.56,6.60,6.64,6.69,6.73,6.80,6.83,6.88,6.92,6.95,7.00,7.04,7.09,
7.12,7.17,7.21,7.24,7.29,7.35,7.39,7.44,7.48,7.52,7.56,7.61,7.66,7.70,7.74,7.77,7.81,7.85,7.89,7.93,
7.96,8.00,8.04,8.09,8.13,8.17,8.22,8.25,8.28,8.32,8.36,8.41,8.46,8.49,8.53,8.55,8.59,8.64,8.69,8.73,
8.76,8.78,8.81,8.84,8.89,8.93,8.98,9.01,9.06,9.08,9.12,9.16,9.18,9.21,9.25,9.29,9.33,9.36,9.41,9.44,
9.47,9.50,9.55,9.59,9.64,9.68,9.73,9.76,9.81,9.85,9.89,9.93,9.97,10.00
];
const driftPercent = [
0.03,0.05,0.07,0.17,0.29,0.09,0.14,0.12,0.13,0.07,0.12,0.22,0.65,0.84,0.46,0.56,0.56,0.38,0.36,0.38,
0.22,0.21,0.30,0.15,0.40,0.40,0.50,0.48,0.30,0.61,0.53,0.52,0.71,0.54,0.56,0.51,0.43,0.67,0.59,0.68,
0.40,0.26,0.25,0.39,0.83,0.84,1.19,1.29,1.23,1.00,1.21,1.51,1.45,1.44,1.90,2.05,2.40,2.29,2.37,2.76,
2.32,2.40,1.86,1.86,1.70,1.99,1.75,1.85,1.50,1.72,1.72,2.02,2.37,2.65,2.77,2.76,3.36,4.49,3.88,3.57,
2.98,3.02,2.84,3.03,3.19,3.10,2.95,2.87,2.89,3.83,3.53,2.93,2.81,2.65,2.37,2.14,2.05,2.11,2.12,2.40,
2.02,1.59,1.85,1.88,2.02,1.39,1.71,1.53,1.51,1.40,1.58,2.14,2.42,2.48,2.77,2.37,2.42,2.30,2.14,2.12,
2.21,2.85,2.95,2.30,1.95,1.70,2.02,2.44,2.28,2.66,2.58,2.34,2.30,2.36,2.28,1.84,1.84,1.93,1.51,1.37,
1.55,1.71,2.04,1.92,2.09,2.21,2.33,2.11,2.37,2.72,3.53,4.07,3.74,3.35,3.00,3.12,2.76,2.20,2.58,2.65,
2.92,2.57,2.82,2.61,2.31,2.72,3.07,3.81,4.37,4.29,2.90,2.98,3.42,3.83,3.95,3.64,3.97,3.74,2.95,3.41,
3.42,3.66,3.06,3.65,4.16,4.39,4.44,4.49,3.81,3.39,3.07,2.74,2.63,2.68,2.37,2.00,1.65,1.62,1.56,1.42,
0.90,0.88,1.04,1.74,1.42,1.48,1.74,1.98,2.05,2.05,2.42,2.32,2.21,2.09,1.81,2.32,1.90,1.98,2.28,2.21,
2.37,2.58,3.18,2.67,2.86,2.60,2.97,3.01,2.93,3.01,3.34,3.17,3.33,3.22
];

const timeTicks = [0, 2, 4, 6, 8, 10];
const energyTicks = [-0.8, -0.7, -0.6, -0.5, -0.4];
const driftTicks = [0, 0.5, 1, 1.5, 2, 2.5, 3, 3.5, 4, 4.5];
const legendEnergy = ["net force not removed", "net force removed"];
const legendDrift = ["net force not removed"];

const svg = d3.select("#fig");

// Left panel: total energy vs time
const xE = d3.scaleLinear().domain([0, 10]).range([76, 617]);
const yE = d3.scaleLinear().domain([-0.8, -0.35]).range([465, 38]);
// Right panel: momentum drift vs time
const xD = d3.scaleLinear().domain([0, 10]).range([688, 1231]);
const yD = d3.scaleLinear().domain([0, 4.5]).range([465, 38]);

// evenly spaced sample times across the 10 ns run
const sampleTimes = n => d3.range(n).map(i => 10 * i / (n - 1));
const toEnergy = v => -v / 1000;

function drawFrame(x, y, yTicks, yFmt) {
  const [x0, x1] = x.range(), [y0, y1] = y.range();
  const g = svg.append("g");
  g.append("g").attr("class", "axis").attr("transform", `translate(0,${y0})`)
    .call(d3.axisBottom(x).tickValues(timeTicks).tickFormat(d3.format("d"))
      .tickSizeInner(-5).tickSizeOuter(0).tickPadding(1));
  g.append("g").attr("transform", `translate(0,${y1})`)
    .call(d3.axisTop(x).tickValues(timeTicks).tickFormat(() => "")
      .tickSizeInner(-5).tickSizeOuter(0));
  g.append("g").attr("class", "axis").attr("transform", `translate(${x0},0)`)
    .call(d3.axisLeft(y).tickValues(yTicks).tickFormat(yFmt)
      .tickSizeInner(-5).tickSizeOuter(0).tickPadding(4));
  g.append("g").attr("transform", `translate(${x1},0)`)
    .call(d3.axisRight(y).tickValues(yTicks).tickFormat(() => "")
      .tickSizeInner(-5).tickSizeOuter(0));
  g.selectAll(".domain").remove();
  g.selectAll(".tick line").attr("stroke", "#000").attr("stroke-width", 1);
  g.append("rect").attr("x", x0).attr("y", y1).attr("width", x1 - x0).attr("height", y0 - y1)
    .attr("fill", "none").attr("stroke", "#000").attr("stroke-width", 2);
  return g;
}

const plusPath = "M-4,0H4M0,-4V4";
const dotR = 1.4;

// ---- left panel marks ----
const tRed = sampleTimes(energyNotRemoved.length);
svg.append("g").selectAll("circle").data(energyNotRemoved).join("circle")
  .attr("cx", (d, i) => xE(tRed[i])).attr("cy", d => yE(toEnergy(d)))
  .attr("r", dotR).attr("fill", "#ff0000");

const tGreen = sampleTimes(energyRemoved.length);
svg.append("g").selectAll("path").data(energyRemoved).join("path")
  .attr("transform", (d, i) => `translate(${xE(tGreen[i])},${yE(toEnergy(d))})`)
  .attr("d", plusPath).attr("stroke", "#00ff00").attr("stroke-width", 1.4).attr("fill", "none");

drawFrame(xE, yE, energyTicks, d3.format(".1f"));

// ---- right panel marks ----
const driftData = driftTime.map((t, i) => [t, driftPercent[i]]);
svg.append("path").datum(driftData)
  .attr("d", d3.line().x(d => xD(d[0])).y(d => yD(d[1])))
  .attr("fill", "none").attr("stroke", "#ff0000").attr("stroke-width", 1.1)
  .attr("stroke-linejoin", "round");

drawFrame(xD, yD, driftTicks, d3.format(""));

// ---- titles and axis labels ----
function label(x, y, txt, rot) {
  const t = svg.append("text").attr("text-anchor", "middle").attr("font-size", 19).text(txt);
  if (rot) t.attr("transform", `translate(${x},${y}) rotate(-90)`);
  else t.attr("x", x).attr("y", y);
}
label(346.5, 21, "PME, SPC water, NVE");
label(959.5, 21, "Momentum drift (PME, SPC water, NVE)");
label(346.5, 504, "Time (ns)");
label(959.5, 504, "Time (ns)");
label(25, 251.5, "Energy + 1801 (kcal/mol)", true);
label(648, 251.5, "Percentage (relative to 300K)", true);

// ---- legends ----
const legE = svg.append("g");
legE.append("rect").attr("x", 82).attr("y", 409).attr("width", 267).attr("height", 49)
  .attr("fill", "#fff").attr("stroke", "#000").attr("stroke-width", 1);
legE.append("circle").attr("cx", 108).attr("cy", 423).attr("r", dotR).attr("fill", "#ff0000");
legE.append("path").attr("transform", "translate(108,446)").attr("d", plusPath)
  .attr("stroke", "#00ff00").attr("stroke-width", 1.4);
legE.selectAll("text").data(legendEnergy).join("text")
  .attr("x", 136).attr("y", (d, i) => 430 + i * 23).attr("font-size", 19).text(d => d);

const legD = svg.append("g");
legD.append("rect").attr("x", 957).attr("y", 432).attr("width", 268).attr("height", 27)
  .attr("fill", "#fff").attr("stroke", "#000").attr("stroke-width", 1);
legD.append("line").attr("x1", 968).attr("x2", 999).attr("y1", 446).attr("y2", 446)
  .attr("stroke", "#ff0000").attr("stroke-width", 1);
legD.selectAll("text").data(legendDrift).join("text")
  .attr("x", 1011).attr("y", 452).attr("font-size", 19).text(d => d);
</script>
</body>
</html>
